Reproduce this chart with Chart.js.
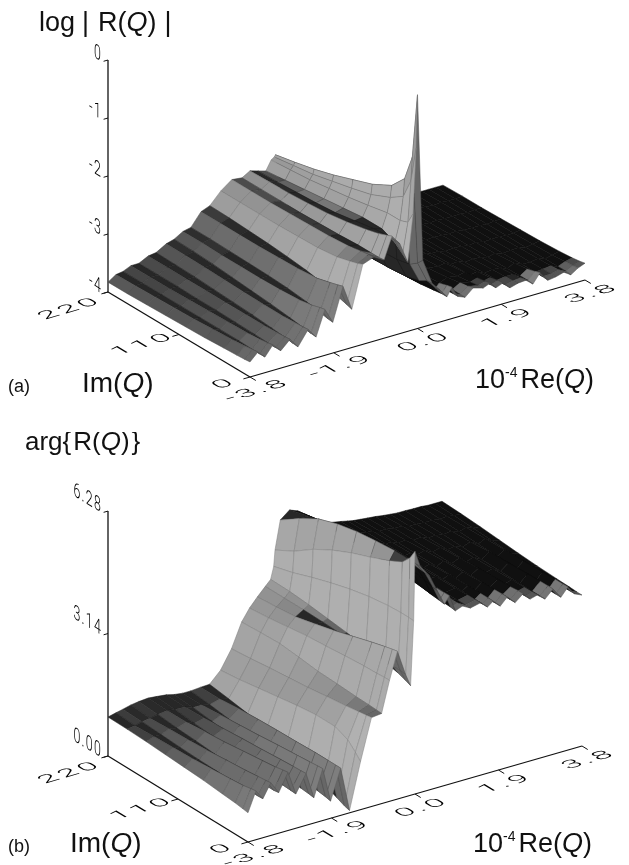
<!DOCTYPE html>
<html>
<head>
<meta charset="utf-8">
<title>log|R(Q)| and arg{R(Q)}</title>
<style>
  html, body { margin: 0; padding: 0; background: #fff; }
  .panel { position: absolute; left: 0; width: 629px; }
</style>
<script src="https://cdn.jsdelivr.net/npm/chart.js@4/dist/chart.umd.min.js"></script>
</head>
<body>
<div class="panel" style="top:0;height:432px"><canvas id="panel-a"></canvas></div>
<div class="panel" style="top:432px;height:433px"><canvas id="panel-b"></canvas></div>
<script>
// Re(Q) columns, read at the fringe peaks and valleys along the front edge
const reColumns = [-3.8, -3.62, -3.46, -3.28, -3.1, -2.89, -2.71, -2.48, -2.3, -2.1, -1.92, -1.69, -1.49, -1.24, -0.99, -0.76, -0.58, -0.4, -0.22, -0.1, -0.03, 0,
  0.12, 0.33, 0.51, 0.67, 0.78, 0.92, 1.08, 1.26, 1.49, 1.65, 1.78, 1.94, 2.1, 2.28, 2.46, 2.62, 2.78, 2.96, 3.14, 3.32, 3.48, 3.64, 3.8];
const imRows = [220, 190, 160, 130, 100, 70, 40, 20, 8, 0];

const reTickValues = [-3.8, -1.9, 0, 1.9, 3.8];
const reTickLabels = ['-3.8', '-1.9', '0.0', '1.9', '3.8'];
const imTickValues = [220, 110, 0];
const imTickLabels = ['220', '110', '0'];
const logTickValues = [0, -1, -2, -3, -4];
const logTickLabels = ['0', '-1', '-2', '-3', '-4'];
const argTickValues = [6.28, 3.14, 0];
const argTickLabels = ['6.28', '3.14', '0.00'];

// log|R(Q)|, one list per Im row
const logIm220 = [-3.83,-3.74,-3.72,-3.66,-3.66,-3.58,-3.56,-3.46,-3.42,-3.33,-3.3,-3.08,-3.02,-2.82,-2.68,-2.7,-2.62,-2.66,-2.7,-2.54,-2.5,-2.47,
  -3.1,-3.5,-3.62,-3.7,-3.68,-3.74,-3.74,-3.76,-3.78,-3.78,-3.8,-3.8,-3.81,-3.81,-3.82,-3.82,-3.82,-3.82,-3.83,-3.83,-3.83,-3.83,-3.83];
const logIm190 = [-3.83,-3.73,-3.72,-3.66,-3.66,-3.58,-3.57,-3.46,-3.43,-3.33,-3.3,-3.08,-3.03,-2.82,-2.68,-2.7,-2.61,-2.65,-2.66,-2.51,-2.45,-2.4,
  -3.11,-3.5,-3.62,-3.7,-3.67,-3.74,-3.74,-3.75,-3.78,-3.77,-3.8,-3.79,-3.81,-3.8,-3.81,-3.82,-3.81,-3.82,-3.83,-3.82,-3.83,-3.83,-3.82];
const logIm160 = [-3.82,-3.72,-3.72,-3.66,-3.66,-3.58,-3.58,-3.47,-3.45,-3.34,-3.31,-3.08,-3.05,-2.82,-2.68,-2.7,-2.6,-2.63,-2.62,-2.48,-2.4,-2.32,
  -3.11,-3.49,-3.62,-3.69,-3.67,-3.73,-3.74,-3.75,-3.77,-3.76,-3.79,-3.79,-3.8,-3.8,-3.81,-3.82,-3.81,-3.82,-3.82,-3.82,-3.83,-3.82,-3.82];
const logIm130 = [-3.81,-3.71,-3.72,-3.65,-3.67,-3.58,-3.6,-3.48,-3.48,-3.34,-3.32,-3.08,-3.07,-2.82,-2.67,-2.7,-2.58,-2.61,-2.58,-2.43,-2.32,-2.22,
  -3.12,-3.49,-3.61,-3.69,-3.66,-3.73,-3.74,-3.74,-3.76,-3.75,-3.78,-3.78,-3.8,-3.79,-3.8,-3.81,-3.8,-3.82,-3.82,-3.82,-3.83,-3.82,-3.81];
const logIm100 = [-3.8,-3.7,-3.72,-3.64,-3.67,-3.58,-3.62,-3.49,-3.51,-3.34,-3.33,-3.07,-3.1,-2.81,-2.66,-2.69,-2.55,-2.58,-2.54,-2.38,-2.24,-2.1,
  -3.13,-3.48,-3.6,-3.68,-3.65,-3.72,-3.73,-3.72,-3.74,-3.73,-3.76,-3.76,-3.79,-3.78,-3.79,-3.81,-3.79,-3.82,-3.82,-3.81,-3.83,-3.82,-3.8];
const logIm70 = [-3.79,-3.68,-3.72,-3.63,-3.68,-3.58,-3.64,-3.5,-3.54,-3.33,-3.35,-3.06,-3.14,-2.8,-2.65,-2.68,-2.5,-2.52,-2.5,-2.32,-2.15,-1.98,
  -3.12,-3.47,-3.58,-3.67,-3.62,-3.7,-3.73,-3.7,-3.72,-3.7,-3.75,-3.74,-3.78,-3.77,-3.78,-3.81,-3.78,-3.82,-3.81,-3.8,-3.83,-3.81,-3.79];
const logIm40 = [-3.77,-3.66,-3.72,-3.62,-3.69,-3.58,-3.67,-3.5,-3.58,-3.31,-3.39,-3.03,-3.2,-2.76,-2.62,-2.66,-2.43,-2.46,-2.5,-2.25,-2,-1.8,
  -3.1,-3.44,-3.55,-3.65,-3.58,-3.68,-3.72,-3.66,-3.69,-3.66,-3.73,-3.71,-3.77,-3.75,-3.76,-3.81,-3.75,-3.81,-3.81,-3.79,-3.83,-3.8,-3.77];
const logIm20 = [-3.76,-3.64,-3.73,-3.6,-3.7,-3.57,-3.69,-3.49,-3.61,-3.27,-3.43,-2.97,-3.27,-2.7,-2.58,-2.66,-2.37,-2.44,-2.6,-2.25,-1.85,-1.55,
  -3.05,-3.38,-3.5,-3.62,-3.52,-3.66,-3.7,-3.62,-3.66,-3.62,-3.71,-3.68,-3.76,-3.74,-3.74,-3.8,-3.72,-3.81,-3.8,-3.78,-3.83,-3.78,-3.75];
const logIm8 = [-3.75,-3.62,-3.73,-3.58,-3.7,-3.56,-3.71,-3.48,-3.63,-3.23,-3.46,-2.93,-3.31,-2.66,-2.56,-2.66,-2.32,-2.44,-2.72,-2.2,-1.5,-1.1,
  -2.95,-3.3,-3.46,-3.6,-3.48,-3.65,-3.7,-3.6,-3.64,-3.6,-3.69,-3.65,-3.76,-3.73,-3.72,-3.8,-3.68,-3.81,-3.8,-3.77,-3.83,-3.77,-3.73];
const logIm0 = [-3.74,-3.61,-3.73,-3.56,-3.7,-3.55,-3.72,-3.47,-3.64,-3.21,-3.47,-2.9,-3.34,-2.62,-2.55,-2.65,-2.28,-2.45,-2.81,-2,-0.88,0.03,
  -2.85,-3.29,-3.45,-3.6,-3.46,-3.65,-3.7,-3.58,-3.63,-3.58,-3.69,-3.64,-3.76,-3.72,-3.71,-3.81,-3.65,-3.82,-3.8,-3.76,-3.84,-3.76,-3.71];

// arg{R(Q)}, one list per Im row
const argIm220 = [1,1.05,1.09,1.14,1.17,1.19,1.17,1.14,1.09,1.06,1.06,1.08,1.09,1.37,1.84,2.45,2.75,2.98,3.19,3.33,3.64,4.05,
  4.78,4.97,4.89,4.76,4.67,4.53,4.44,4.35,4.3,4.26,4.23,4.21,4.19,4.17,4.14,4.12,4.1,4.1,4.09,4.09,4.07,4.07,4.07];
const argIm190 = [0.99,1.02,1.07,1.1,1.14,1.17,1.14,1.13,1.06,1.06,1.01,1.08,1.02,1.43,1.89,2.48,2.8,3.02,3.19,3.32,3.78,4.32,
  5.12,5.12,4.98,4.8,4.7,4.55,4.46,4.36,4.32,4.27,4.26,4.21,4.21,4.17,4.17,4.12,4.12,4.1,4.1,4.07,4.09,4.06,4.05];
const argIm160 = [0.97,1.04,1.04,1.13,1.09,1.18,1.09,1.15,1,1.1,0.94,1.13,0.94,1.51,1.95,2.5,2.87,3.07,3.19,3.28,3.96,4.67,
  5.41,5.23,5.06,4.84,4.73,4.55,4.48,4.37,4.35,4.28,4.28,4.21,4.23,4.17,4.19,4.12,4.13,4.09,4.12,4.05,4.1,4.04,4.02];
const argIm130 = [0.94,1.06,1.01,1.15,1.06,1.23,1.05,1.18,0.94,1.14,0.86,1.16,0.85,1.59,2,2.45,2.94,3.19,3.18,3.22,4.12,4.95,
  5.58,5.35,5.12,4.86,4.77,4.55,4.48,4.37,4.37,4.28,4.3,4.21,4.27,4.17,4.22,4.12,4.15,4.07,4.15,4.03,4.12,4.01,3.98];
const argIm100 = [0.91,1.08,0.99,1.18,1.02,1.27,1,1.22,0.89,1.18,0.77,1.18,0.71,1.67,2.05,2.39,2.98,3.32,3.16,3.16,4.26,5.18,
  5.69,5.44,5.18,4.86,4.79,4.53,4.48,4.37,4.38,4.27,4.32,4.21,4.3,4.17,4.26,4.12,4.17,4.06,4.19,4.01,4.14,3.98,3.94];
const argIm70 = [0.88,1.12,0.98,1.23,1.01,1.33,0.96,1.25,0.82,1.23,0.68,1.19,0.53,1.73,2.12,2.37,3.03,3.47,3.16,3.1,4.37,5.37,
  5.75,5.49,5.19,4.8,4.8,4.5,4.48,4.37,4.39,4.27,4.35,4.2,4.32,4.17,4.29,4.13,4.18,4.05,4.21,3.99,4.15,3.97,3.91];
const argIm40 = [0.83,1.16,0.98,1.27,1.01,1.39,0.92,1.29,0.75,1.27,0.57,1.21,0.34,1.73,2.18,2.34,3.07,3.62,3.16,3.02,4.44,5.58,
  5.8,5.52,5.18,4.75,4.81,4.45,4.48,4.36,4.4,4.27,4.36,4.2,4.35,4.17,4.31,4.14,4.19,4.04,4.23,3.98,4.17,3.96,3.89];
const argIm20 = [0.8,1.19,0.99,1.31,1.02,1.43,0.9,1.31,0.69,1.3,0.5,1.21,0.19,1.59,2.23,2.33,3.08,3.71,3.16,2.94,4.46,5.75,
  5.8,5.51,5.12,4.69,4.83,4.43,4.47,4.36,4.42,4.26,4.37,4.19,4.36,4.17,4.32,4.15,4.2,4.04,4.24,3.97,4.18,3.95,3.88];
const argIm8 = [0.77,1.23,0.99,1.33,1.02,1.47,0.89,1.32,0.67,1.32,0.47,1.21,0.1,1.39,2.26,2.32,3.1,3.76,3.16,2.87,4.46,5.97,
  5.8,5.5,5.08,4.67,4.83,4.42,4.47,4.36,4.42,4.26,4.37,4.19,4.37,4.17,4.34,4.15,4.2,4.04,4.24,3.97,4.18,3.95,3.87];
const argIm0 = [0.75,1.25,1,1.35,1.04,1.49,0.88,1.33,0.65,1.33,0.44,1.21,0.06,1.23,2.28,2.31,3.1,3.79,3.15,2.81,4.45,6.22,
  5.8,5.49,5.04,4.65,4.83,4.4,4.47,4.36,4.42,4.26,4.37,4.19,4.37,4.17,4.34,4.15,4.2,4.04,4.24,3.97,4.18,3.95,3.87];

const logRows = [logIm220, logIm190, logIm160, logIm130, logIm100, logIm70, logIm40, logIm20, logIm8, logIm0];
const argRows = [argIm220, argIm190, argIm160, argIm130, argIm100, argIm70, argIm40, argIm20, argIm8, argIm0];

const SANS = '"Liberation Sans", Arial, sans-serif';
const TICK_FONT = '300 20px Roboto, "Liberation Sans", sans-serif';

// spacing of the original mesh, used to shade each coarser cell
const MESH_RE = 0.07;
const MESH_IM = 3.6;
const MESH_LINE = 0.7;

function makeProjector(origin, reRun, imRun, zBase, zPx) {
  return (re, im, z) => ({
    x: origin.x + (re + 3.8) / 7.6 * reRun.x + im / 220 * imRun.x,
    y: origin.y + (re + 3.8) / 7.6 * reRun.y + im / 220 * imRun.y - (z - zBase) * zPx
  });
}

function cellGray(p00, p10, p01, re0, re1, im0, im1, darken, cap) {
  const ux = p10.x - p00.x, uy = p10.y - p00.y;
  const vx = p01.x - p00.x, vy = p01.y - p00.y;
  const area = uy * vx - ux * vy;
  // a cell seen from behind reads as solid mesh
  let cover = 1;
  if (area > 0) {
    const nRe = Math.abs(re1 - re0) / MESH_RE;
    const nIm = Math.abs(im1 - im0) / MESH_IM;
    cover = MESH_LINE * (nRe * Math.hypot(vx, vy) + nIm * Math.hypot(ux, uy)) / area;
  }
  cover = Math.min(cap, cover * darken);
  return Math.round(16 + 230 * (1 - cover));
}

function surfaceDatasets(rows, project) {
  const sets = [];
  // painted from the far corner (high Im, high Re) toward the viewer
  for (let r = 0; r < imRows.length - 1; r++) {
    const imBack = imRows[r], imFront = imRows[r + 1];
    for (let c = reColumns.length - 2; c >= 0; c--) {
      const re0 = reColumns[c], re1 = reColumns[c + 1];
      const fl = project(re0, imFront, rows[r + 1][c]);
      const fr = project(re1, imFront, rows[r + 1][c + 1]);
      const br = project(re1, imBack, rows[r][c + 1]);
      const bl = project(re0, imBack, rows[r][c]);
      const farSide = re0 >= 0.33;
      const shelf = re0 < -1.5;
      const darken = farSide ? (imFront < 20 ? 1.4 : 3) : (shelf ? 1.6 : 1);
      const cap = farSide ? (imFront < 8 ? 0.7 : 1) : (imFront < 20 ? 0.62 : 0.9);
      const g = cellGray(fl, fr, bl, re0, re1, imFront, imBack, darken, cap);
      const edge = g * 0.75 | 0;
      sets.push({
        data: [fl, fr, br, bl, fl],
        showLine: true,
        fill: 'shape',
        backgroundColor: `rgb(${g},${g},${g})`,
        borderColor: `rgb(${edge},${edge},${edge})`,
        borderWidth: 0.5,
        pointRadius: 0,
        tension: 0
      });
    }
  }
  return sets;
}

function axisDatasets(project, zBase, zTop, zTicks) {
  const line = (data, width) => ({
    data, showLine: true, fill: false, borderColor: '#111', borderWidth: width, pointRadius: 0
  });
  const sets = [
    line([project(-3.8, 0, zBase), project(3.8, 0, zBase)], 1.3),
    line([project(-3.8, 0, zBase), project(-3.8, 220, zBase)], 1.3),
    line([project(-3.8, 220, zBase), project(-3.8, 220, zTop)], 1.3)
  ];
  reTickValues.forEach((re) => sets.push(line([project(re, 0, zBase), project(re, -9, zBase)], 1)));
  imTickValues.forEach((im) => sets.push(line([project(-3.8, im, zBase), project(-3.95, im, zBase)], 1)));
  zTicks.forEach((z) => sets.push(line([project(-3.8, 220, z), project(-3.9, 220, z)], 1)));
  return sets;
}

// draws a text whose baseline and glyph height lie along two picture directions
function slanted(ctx, text, x, y, base, up, align) {
  ctx.save();
  ctx.transform(base.x, base.y, -up.x, -up.y, x, y);
  ctx.textAlign = align;
  ctx.textBaseline = 'alphabetic';
  ctx.font = TICK_FONT;
  ctx.letterSpacing = '2px';
  ctx.fillText(text, 0, 0);
  ctx.restore();
}

function runs(ctx, list, x, y) {
  ctx.textAlign = 'left';
  ctx.textBaseline = 'alphabetic';
  list.forEach((run) => {
    ctx.font = run.font;
    x += run.gap || 0;
    ctx.fillText(run.text, x, y - (run.rise || 0));
    x += ctx.measureText(run.text).width;
  });
}

const upright = (px) => `${px}px ${SANS}`;
const italic = (px) => `italic ${px}px ${SANS}`;

function labelPlugin(cfg) {
  return {
    id: 'labels',
    afterDraw(chart) {
      const { ctx } = chart;
      const p = cfg.project;
      ctx.save();
      ctx.translate(0, -cfg.top);
      ctx.fillStyle = '#000';
      // the floor labels lie in the Re/Im plane
      const floorBase = { x: 1.5, y: -0.44 };
      const floorUp = { x: -0.72, y: -0.44 };
      reTickValues.forEach((re, i) => {
        const t = p(re, 0, cfg.zBase);
        slanted(ctx, reTickLabels[i], t.x + 11, t.y + 16, floorBase, floorUp, 'center');
      });
      imTickValues.forEach((im, i) => {
        const t = p(-3.8, im, cfg.zBase);
        const off = cfg.imLabelOffset[i];
        slanted(ctx, imTickLabels[i], t.x + off.x, t.y + off.y, floorBase, floorUp, 'center');
      });
      const wallBase = { x: 0.62, y: 0.38 };
      const wallUp = { x: 0, y: -1.02 };
      cfg.zTicks.forEach((z, i) => {
        const t = p(-3.8, 220, z);
        slanted(ctx, cfg.zLabels[i], t.x - 6, t.y + 2, wallBase, wallUp, 'right');
      });
      ctx.fillStyle = '#111';
      cfg.titles.forEach((title) => runs(ctx, title.runs, title.x, title.y));
      ctx.restore();
    }
  };
}

function drawPanel(id, cfg) {
  const canvas = document.getElementById(id);
  canvas.width = 629;
  canvas.height = cfg.bottom - cfg.top;
  const datasets = axisDatasets(cfg.project, cfg.zBase, cfg.zTop, cfg.zTicks)
    .concat(surfaceDatasets(cfg.rows, cfg.project))
    .reverse(); // Chart.js paints the first dataset last
  return new Chart(canvas.getContext('2d'), {
    type: 'scatter',
    data: { datasets },
    options: {
      responsive: false,
      animation: false,
      events: [],
      layout: { padding: 0 },
      parsing: false,
      plugins: { legend: { display: false }, tooltip: { enabled: false } },
      scales: {
        x: { type: 'linear', display: false, min: 0, max: 629 },
        y: { type: 'linear', display: false, reverse: true, min: cfg.top, max: cfg.bottom }
      }
    },
    plugins: [labelPlugin(cfg)]
  });
}

const projectLog = makeProjector({ x: 250, y: 377 }, { x: 335, y: -97 }, { x: -142, y: -85 }, -4, 58);
const projectArg = makeProjector({ x: 248, y: 842 }, { x: 334, y: -96 }, { x: -140, y: -86 }, 0, 39);

drawPanel('panel-a', {
  top: 0, bottom: 432, rows: logRows, project: projectLog, zBase: -4, zTop: 0,
  zTicks: logTickValues, zLabels: logTickLabels,
  imLabelOffset: [{ x: -34, y: 19 }, { x: -32, y: 12 }, { x: -22, y: 9 }],
  titles: [
    { x: 39, y: 31, runs: [
      { text: 'log', font: upright(27) }, { text: '|', font: upright(27), gap: 7 },
      { text: 'R(', font: upright(27), gap: 9 }, { text: 'Q', font: italic(27) }, { text: ')', font: upright(27) },
      { text: '|', font: upright(27), gap: 8 }] },
    { x: 8, y: 392, runs: [{ text: '(a)', font: upright(18) }] },
    { x: 82, y: 392, runs: [
      { text: 'Im(', font: upright(28) }, { text: 'Q', font: italic(28) }, { text: ')', font: upright(28) }] },
    { x: 475, y: 388, runs: [
      { text: '10', font: upright(27) }, { text: '-4', font: upright(14), rise: 11 },
      { text: 'Re(', font: upright(27), gap: 3 }, { text: 'Q', font: italic(27) }, { text: ')', font: upright(27) }] }
  ]
});

drawPanel('panel-b', {
  top: 432, bottom: 865, rows: argRows, project: projectArg, zBase: 0, zTop: 6.28,
  zTicks: argTickValues, zLabels: argTickLabels,
  imLabelOffset: [{ x: -34, y: 19 }, { x: -32, y: 12 }, { x: -22, y: 9 }],
  titles: [
    { x: 25, y: 450, runs: [
      { text: 'arg', font: upright(26) }, { text: '{', font: upright(26) },
      { text: 'R(', font: upright(26), gap: 2 }, { text: 'Q', font: italic(26) }, { text: ')', font: upright(26) },
      { text: '}', font: upright(26), gap: 2 }] },
    { x: 8, y: 852, runs: [{ text: '(b)', font: upright(18) }] },
    { x: 70, y: 852, runs: [
      { text: 'Im(', font: upright(28) }, { text: 'Q', font: italic(28) }, { text: ')', font: upright(28) }] },
    { x: 473, y: 852, runs: [
      { text: '10', font: upright(27) }, { text: '-4', font: upright(14), rise: 11 },
      { text: 'Re(', font: upright(27), gap: 3 }, { text: 'Q', font: italic(27) }, { text: ')', font: upright(27) }] }
  ]
});
</script>
</body>
</html>
